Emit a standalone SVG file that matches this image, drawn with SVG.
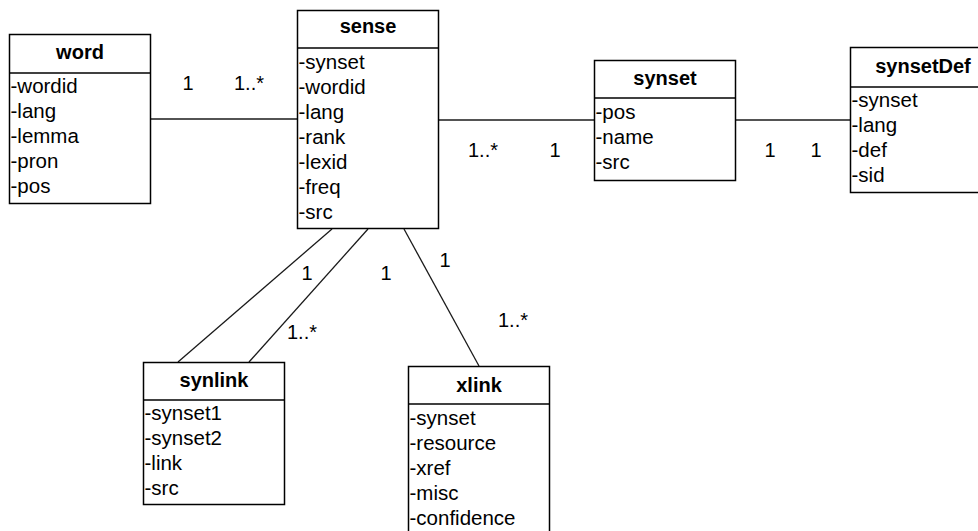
<svg xmlns="http://www.w3.org/2000/svg" width="978" height="531" viewBox="0 0 978 531">
  <style>
    .box { fill: #ffffff; stroke: #000000; stroke-width: 1.5; }
    .sep { stroke: #000000; stroke-width: 1.5; }
    .title { font-family: "Liberation Sans", Arial, sans-serif; font-size: 20px; font-weight: bold; text-anchor: middle; fill: #000000; }
    .attr { font-family: "Liberation Sans", Arial, sans-serif; font-size: 20.5px; fill: #000000; }
    .mult { font-family: "Liberation Sans", Arial, sans-serif; font-size: 20px; fill: #000000; }
    .link { stroke: #1a1a1a; stroke-width: 1.3; fill: none; }
  </style>
  <rect width="978" height="531" fill="#ffffff"/>

  <!-- associations -->
  <g id="connectors">
    <line class="link" x1="150" y1="119" x2="297" y2="119"/>
    <line class="link" x1="439" y1="120" x2="594" y2="120"/>
    <line class="link" x1="735" y1="120" x2="850" y2="120"/>
    <line class="link" x1="332" y1="229" x2="178" y2="362"/>
    <line class="link" x1="368" y1="229" x2="249" y2="362"/>
    <line class="link" x1="404" y1="229" x2="479" y2="366"/>
    <text class="mult" x="188" y="90" text-anchor="middle">1</text>
    <text class="mult" x="234" y="90">1..*</text>
    <text class="mult" x="468" y="157">1..*</text>
    <text class="mult" x="555" y="157" text-anchor="middle">1</text>
    <text class="mult" x="770" y="157" text-anchor="middle">1</text>
    <text class="mult" x="816" y="157" text-anchor="middle">1</text>
    <text class="mult" x="307" y="280" text-anchor="middle">1</text>
    <text class="mult" x="386" y="280" text-anchor="middle">1</text>
    <text class="mult" x="287" y="339">1..*</text>
    <text class="mult" x="445" y="267" text-anchor="middle">1</text>
    <text class="mult" x="498" y="327">1..*</text>
  </g>

  <g id="word">
    <rect class="box" x="9.5" y="34.5" width="141" height="169"/>
    <line class="sep" x1="9.5" y1="73" x2="150.5" y2="73"/>
    <text class="title" x="80" y="59">word</text>
    <text class="attr" x="10.5" y="93">-wordid</text>
    <text class="attr" x="10.5" y="118">-lang</text>
    <text class="attr" x="10.5" y="143">-lemma</text>
    <text class="attr" x="10.5" y="168">-pron</text>
    <text class="attr" x="10.5" y="193">-pos</text>
  </g>

  <g id="sense">
    <rect class="box" x="297.5" y="10.5" width="141" height="218"/>
    <line class="sep" x1="297.5" y1="48" x2="438.5" y2="48"/>
    <text class="title" x="368" y="33">sense</text>
    <text class="attr" x="298.5" y="69">-synset</text>
    <text class="attr" x="298.5" y="94">-wordid</text>
    <text class="attr" x="298.5" y="119">-lang</text>
    <text class="attr" x="298.5" y="144">-rank</text>
    <text class="attr" x="298.5" y="169">-lexid</text>
    <text class="attr" x="298.5" y="194">-freq</text>
    <text class="attr" x="298.5" y="219">-src</text>
  </g>

  <g id="synset">
    <rect class="box" x="594.5" y="60.5" width="141" height="120"/>
    <line class="sep" x1="594.5" y1="98" x2="735.5" y2="98"/>
    <text class="title" x="665" y="85">synset</text>
    <text class="attr" x="595.5" y="119">-pos</text>
    <text class="attr" x="595.5" y="144">-name</text>
    <text class="attr" x="595.5" y="169">-src</text>
  </g>

  <g id="synsetDef">
    <rect class="box" x="850.5" y="47.5" width="146" height="145"/>
    <line class="sep" x1="850.5" y1="87" x2="996.5" y2="87"/>
    <text class="title" x="923" y="73">synsetDef</text>
    <text class="attr" x="851.5" y="107">-synset</text>
    <text class="attr" x="851.5" y="132">-lang</text>
    <text class="attr" x="851.5" y="157">-def</text>
    <text class="attr" x="851.5" y="182">-sid</text>
  </g>

  <g id="synlink">
    <rect class="box" x="143.5" y="362.5" width="141" height="142"/>
    <line class="sep" x1="143.5" y1="400" x2="284.5" y2="400"/>
    <text class="title" x="214" y="387">synlink</text>
    <text class="attr" x="144.5" y="420">-synset1</text>
    <text class="attr" x="144.5" y="445">-synset2</text>
    <text class="attr" x="144.5" y="470">-link</text>
    <text class="attr" x="144.5" y="495">-src</text>
  </g>

  <g id="xlink">
    <rect class="box" x="408.5" y="366.5" width="141" height="180"/>
    <line class="sep" x1="408.5" y1="404" x2="549.5" y2="404"/>
    <text class="title" x="479" y="392">xlink</text>
    <text class="attr" x="409.5" y="425">-synset</text>
    <text class="attr" x="409.5" y="450">-resource</text>
    <text class="attr" x="409.5" y="475">-xref</text>
    <text class="attr" x="409.5" y="500">-misc</text>
    <text class="attr" x="409.5" y="525">-confidence</text>
  </g>
</svg>
